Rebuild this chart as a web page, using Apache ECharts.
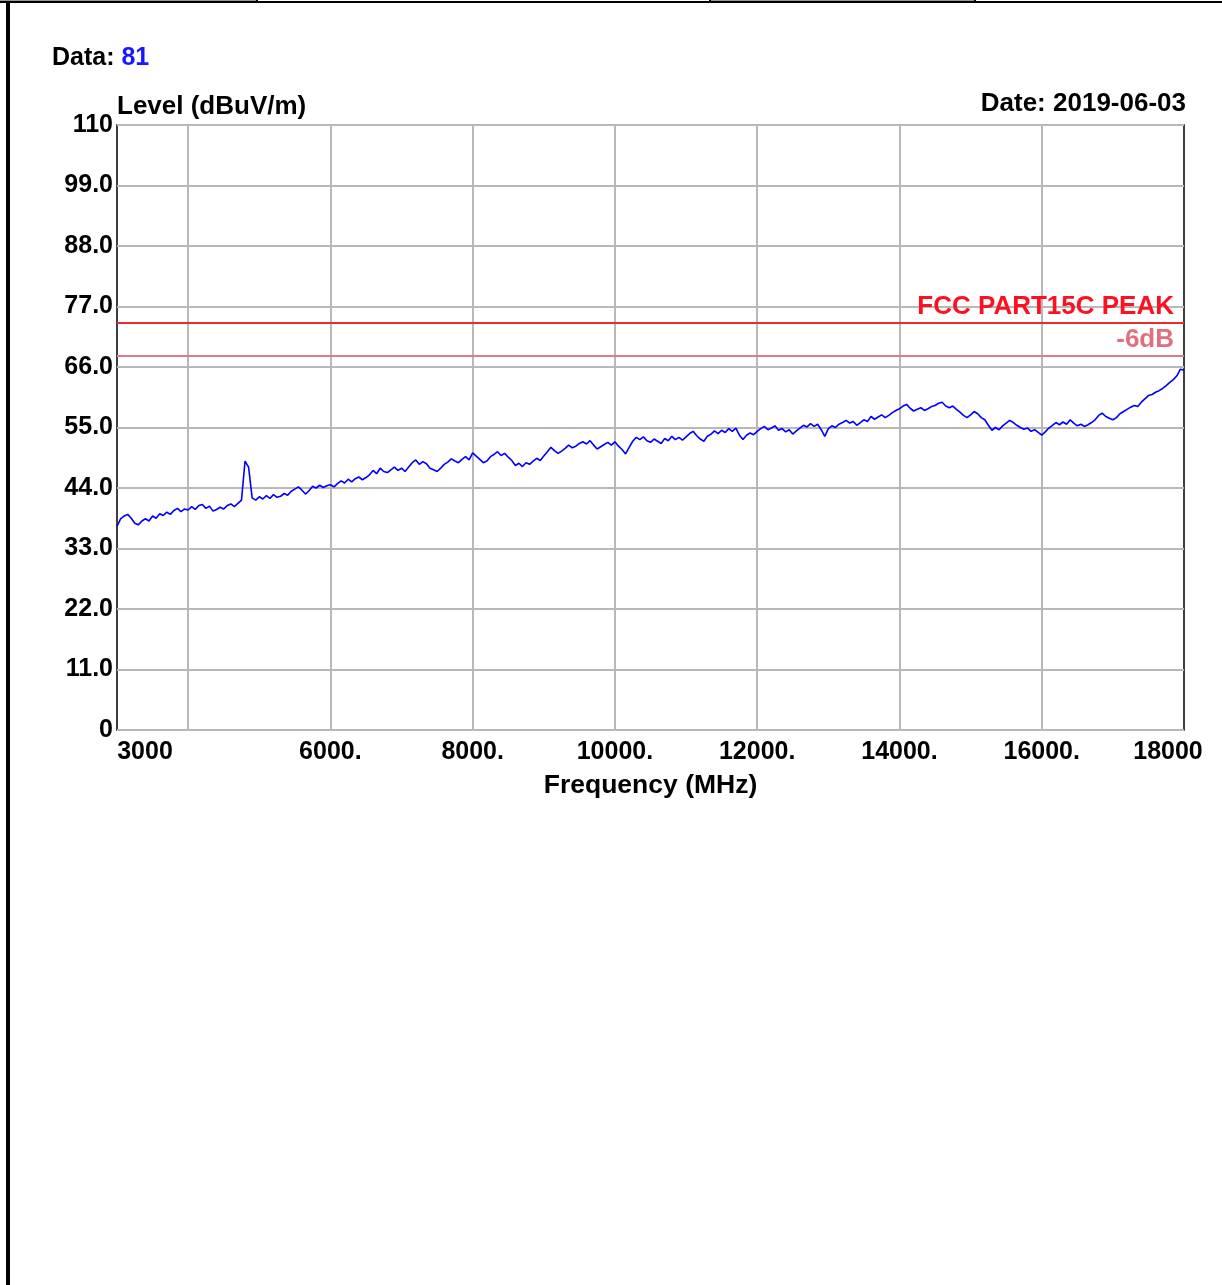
<!DOCTYPE html>
<html>
<head>
<meta charset="utf-8">
<script src="https://cdn.jsdelivr.net/npm/echarts@6/dist/echarts.min.js"></script>
<style>
html,body{margin:0;padding:0;background:#fff;}
#chart{width:1222px;height:1285px;}
</style>
</head>
<body>
<div id="chart"></div>
<script>
// ---- data ----
const freqMHz = [
  3000,3050,3100,3150,3200,3250,3300,3350,3400,3450,
  3500,3550,3600,3650,3700,3750,3800,3850,3900,3950,
  4000,4050,4100,4150,4200,4250,4300,4350,4400,4450,
  4500,4550,4600,4650,4700,4750,4800,4850,4900,4950,
  5000,5050,5100,5150,5200,5250,5300,5350,5400,5450,
  5500,5550,5600,5650,5700,5750,5800,5850,5900,5950,
  6000,6050,6100,6150,6200,6250,6300,6350,6400,6450,
  6500,6550,6600,6650,6700,6750,6800,6850,6900,6950,
  7000,7050,7100,7150,7200,7250,7300,7350,7400,7450,
  7500,7550,7600,7650,7700,7750,7800,7850,7900,7950,
  8000,8050,8100,8150,8200,8250,8300,8350,8400,8450,
  8500,8550,8600,8650,8700,8750,8800,8850,8900,8950,
  9000,9050,9100,9150,9200,9250,9300,9350,9400,9450,
  9500,9550,9600,9650,9700,9750,9800,9850,9900,9950,
  10000,10050,10100,10150,10200,10250,10300,10350,10400,10450,
  10500,10550,10600,10650,10700,10750,10800,10850,10900,10950,
  11000,11050,11100,11150,11200,11250,11300,11350,11400,11450,
  11500,11550,11600,11650,11700,11750,11800,11850,11900,11950,
  12000,12050,12100,12150,12200,12250,12300,12350,12400,12450,
  12500,12550,12600,12650,12700,12750,12800,12850,12900,12950,
  13000,13050,13100,13150,13200,13250,13300,13350,13400,13450,
  13500,13550,13600,13650,13700,13750,13800,13850,13900,13950,
  14000,14050,14100,14150,14200,14250,14300,14350,14400,14450,
  14500,14550,14600,14650,14700,14750,14800,14850,14900,14950,
  15000,15050,15100,15150,15200,15250,15300,15350,15400,15450,
  15500,15550,15600,15650,15700,15750,15800,15850,15900,15950,
  16000,16050,16100,16150,16200,16250,16300,16350,16400,16450,
  16500,16550,16600,16650,16700,16750,16800,16850,16900,16950,
  17000,17050,17100,17150,17200,17250,17300,17350,17400,17450,
  17500,17550,17600,17650,17700,17750,17800,17850,17900,17950,
  18000
];
const levelDbuv = [
  37.0,38.4,38.9,39.2,38.5,37.6,37.3,38.0,38.4,38.0,
  38.9,38.5,39.3,39.0,39.6,39.2,39.9,40.3,39.7,40.2,
  40.0,40.6,40.1,40.8,41.0,40.3,40.7,39.8,40.1,40.5,
  40.2,40.8,41.1,40.6,41.2,41.8,48.9,47.8,42.2,41.8,
  42.4,42.0,42.6,42.1,42.8,42.3,42.5,43.0,42.7,43.4,
  43.8,44.2,43.6,42.9,43.5,44.3,44.0,44.5,44.1,44.4,
  44.6,44.2,44.8,45.3,44.9,45.6,45.1,45.7,46.0,45.5,
  45.9,46.4,47.2,46.6,47.6,47.0,46.8,47.3,47.8,47.2,
  47.6,47.0,47.8,48.6,49.1,48.3,48.8,48.4,47.6,47.3,
  47.0,47.6,48.3,48.7,49.3,48.9,48.6,49.2,49.7,49.1,
  50.4,49.8,49.2,48.6,48.9,49.7,50.1,50.6,49.9,50.3,
  49.6,49.0,48.1,48.5,47.9,48.6,48.3,48.9,49.4,49.0,
  49.8,50.6,51.4,50.8,50.3,50.7,51.2,51.8,51.3,51.6,
  52.1,52.4,52.0,52.6,51.8,51.1,51.5,51.9,52.3,51.8,
  52.4,51.6,51.0,50.2,51.4,52.5,53.2,52.8,53.3,52.6,
  52.3,52.9,52.5,52.1,53.0,52.6,53.4,52.8,53.2,52.7,
  53.3,53.9,54.3,53.5,52.9,52.5,53.4,53.8,54.4,53.9,
  54.5,54.1,54.8,54.3,54.9,53.6,52.8,53.6,54.0,53.7,
  54.3,54.8,55.2,54.6,54.9,55.3,54.5,54.8,54.2,54.6,
  53.8,54.4,54.9,55.4,55.1,55.7,55.2,55.6,54.6,53.4,
  54.8,55.3,55.0,55.6,55.9,56.3,55.8,56.1,55.4,55.9,
  56.4,56.1,57.0,56.5,56.9,57.3,56.8,57.2,57.7,58.1,
  58.4,58.9,59.2,58.5,58.0,58.3,58.6,58.1,58.4,58.8,
  59.0,59.4,59.6,58.9,58.6,58.9,58.3,57.8,57.2,56.8,
  57.3,57.9,57.5,56.8,56.4,55.4,54.5,55.0,54.6,55.3,
  55.8,56.3,55.9,55.4,55.0,54.7,54.9,54.3,54.6,54.1,
  53.6,54.2,54.9,55.4,55.9,55.5,56.0,55.6,56.4,55.8,
  55.3,55.6,55.2,55.5,55.9,56.4,57.2,57.6,57.0,56.7,
  56.4,56.8,57.5,57.9,58.3,58.7,59.0,58.8,59.6,60.2,
  60.8,61.0,61.4,61.7,62.1,62.6,63.2,63.7,64.4,65.6,
  65.4
];
const limitPeak = 74;
const limitMinus6 = 68;
const limitNames = ['FCC PART15C PEAK', '-6dB'];
const yTickValues = [0,11,22,33,44,55,66,77,88,99,110];
const yTickLabels = ['0','11.0','22.0','33.0','44.0','55.0','66.0','77.0','88.0','99.0','110'];
const xGridValues = [4000,6000,8000,10000,12000,14000,16000];
const xLabelValues = [3000,6000,8000,10000,12000,14000,16000,18000];
const xTickLabels = ['3000','6000.','8000.','10000.','12000.','14000.','16000.','18000'];
const yAxisTitle = 'Level (dBuV/m)';
const xAxisTitle = 'Frequency (MHz)';
const dataNo = '81';
const dateText = '2019-06-03';

const FONT = '"Liberation Sans", Arial, sans-serif';
const FS = 25;
const FT = 26;
const chart = echarts.init(document.getElementById('chart'), null, {renderer:'canvas'});
const seriesData = freqMHz.map((f,i)=>[f, levelDbuv[i]]);

const option = {
  animation:false,
  backgroundColor:'#fff',
  grid:{left:117, top:125, right:38, bottom:555, show:true, borderColor:'#000', borderWidth:1.5, backgroundColor:'transparent'},
  xAxis:{
    type:'value', min:3000, max:18000,
    name:xAxisTitle, nameLocation:'middle', nameGap:42,
    nameTextStyle:{fontFamily:FONT, fontWeight:'bold', fontSize:26.5, color:'#000'},
    axisLine:{show:false},
    axisTick:{show:false, customValues:xGridValues},
    splitLine:{show:true, lineStyle:{color:'#b8b8b8', width:2}},
    axisLabel:{
      customValues:xLabelValues, margin:10,
      fontFamily:FONT, fontWeight:'bold', fontSize:FS, color:'#000',
      formatter:function(v){
        const i = xLabelValues.indexOf(v);
        const t = xTickLabels[i];
        if(i===0) return '{l|'+t+'}';
        if(i===xLabelValues.length-1) return '{r|'+t+'}';
        return t;
      },
      rich:{
        l:{fontFamily:FONT, fontWeight:'bold', fontSize:FS, color:'#000', padding:[0,0,0,56]},
        r:{fontFamily:FONT, fontWeight:'bold', fontSize:FS, color:'#000', padding:[0,32,0,0]}
      }
    }
  },
  yAxis:{
    type:'value', min:0, max:110, interval:11,
    axisLine:{show:false}, axisTick:{show:false},
    splitLine:{show:true, lineStyle:{color:'#b8b8b8', width:2}},
    axisLabel:{
      margin:4, fontFamily:FONT, fontWeight:'bold', fontSize:FS, color:'#000',
      formatter:function(v){ const i = yTickValues.indexOf(v); return i>=0 ? yTickLabels[i] : ''; }
    }
  },
  series:[
    {
      type:'line', data:seriesData, showSymbol:false, symbol:'none',
      lineStyle:{color:'#0000ff', width:1.6}, z:5,
      markLine:{
        silent:true, symbol:['none','none'], animation:false,
        data:[
          {yAxis:limitPeak, lineStyle:{color:'#ee2a30', width:2, type:'solid'},
           label:{show:true, position:'insideEndTop', formatter:limitNames[0], distance:[10,3],
             fontFamily:FONT, fontWeight:'bold', fontSize:FT, color:'#ff1020'}},
          {yAxis:limitMinus6, lineStyle:{color:'#e07a8c', width:2, type:'solid'},
           label:{show:true, position:'insideEndTop', formatter:limitNames[1], distance:[10,3],
             fontFamily:FONT, fontWeight:'bold', fontSize:FT, color:'#e07080'}}
        ]
      }
    }
  ],
  graphic:[
    {type:'rect', shape:{x:6,y:0,width:4,height:1285}, style:{fill:'#000'}},
    {type:'rect', shape:{x:0,y:0,width:257,height:1}, style:{fill:'#999'}},
    {type:'rect', shape:{x:710,y:0,width:265,height:1}, style:{fill:'#999'}},
    {type:'rect', shape:{x:0,y:1,width:1222,height:2}, style:{fill:'#000'}},
    {type:'rect', shape:{x:256,y:0,width:2,height:2}, style:{fill:'#000'}},
    {type:'rect', shape:{x:709,y:0,width:2,height:2}, style:{fill:'#000'}},
    {type:'rect', shape:{x:974,y:0,width:2,height:2}, style:{fill:'#000'}},
    {type:'text', left:52, top:46, style:{
      rich:{a:{fontFamily:FONT, fontWeight:'bold', fontSize:FS, fill:'#000'}, b:{fontFamily:FONT, fontWeight:'bold', fontSize:FS, fill:'#1818ff'}},
      text:'{a|Data: }{b|'+dataNo+'}'}},
    {type:'text', left:117, top:94, style:{
      text:yAxisTitle, fontFamily:FONT, fontWeight:'bold', fontSize:FT, fill:'#000'}},
    {type:'text', right:36, top:91, style:{
      text:'Date: '+dateText, fontFamily:FONT, fontWeight:'bold', fontSize:FT, fill:'#000'}}
  ]
};
chart.setOption(option);
</script>
</body>
</html>
